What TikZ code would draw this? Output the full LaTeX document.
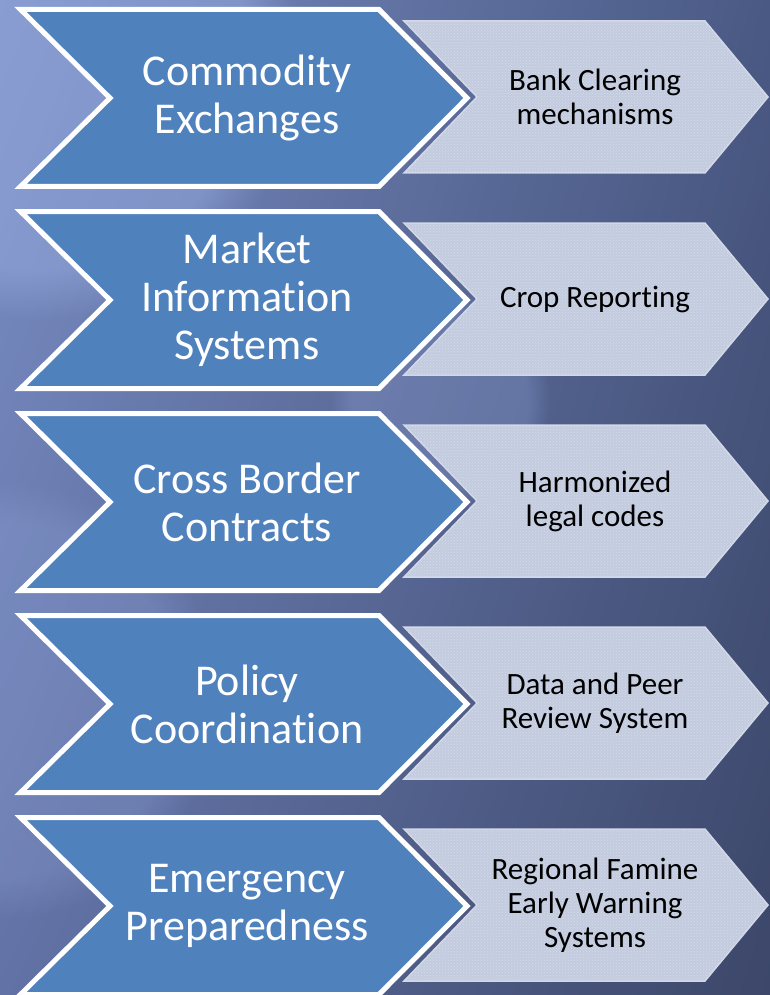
\documentclass[tikz,border=0pt]{standalone}
\usepackage{fontspec}
\setmainfont{Carlito}[Ligatures=NoCommon]
\usetikzlibrary{fadings,patterns,shadings}
\definecolor{bgUL}{HTML}{7A8EC4}
\definecolor{bgUR}{HTML}{4A5984}
\definecolor{bgLL}{HTML}{6272A6}
\definecolor{bgLR}{HTML}{3C4769}
\definecolor{glow}{HTML}{9CB0E6}
\definecolor{chevblue}{HTML}{4F81BD}
\definecolor{chevgray}{HTML}{C3CBDF}
\definecolor{chevdots}{HTML}{D7DCEA}
\definecolor{chevgrayedge}{HTML}{D2D8E8}
\begin{document}
\begin{tikzpicture}[x=1pt,y=-1pt,
  bluechev/.style={fill=chevblue, draw=white, line width=5pt, line join=miter},
  graychev/.style={fill=chevgray, draw=chevgrayedge, line width=1.5pt, line join=miter},
  graydots/.style={pattern=crosshatch dots, pattern color=chevdots},
  bluetext/.style={text=white, font=\fontsize{44}{48}\selectfont, align=center},
  graytext/.style={text=black, font=\fontsize{31}{34}\selectfont, align=center}]
\useasboundingbox (0,0) rectangle (770,995);
\begin{scope}
\clip (0,0) rectangle (770,995);
% background
\shade[upper left=bgUL, upper right=bgUR, lower left=bgLL, lower right=bgLR] (0,0) rectangle (770,995);
\fill[glow, opacity=0.45, path fading=circle with fuzzy edge 20 percent] (40,60) circle (260);
\fill[glow, opacity=0.25, path fading=circle with fuzzy edge 20 percent] (440,400) circle (110);
\fill[glow, opacity=0.22, path fading=circle with fuzzy edge 20 percent] (0,700) circle (220);
% rows
\foreach \i/\c/\lt/\rt in {
  1/98/{Commodity\\Exchanges}/{Bank Clearing\\mechanisms},
  2/300/{Market\\Information\\Systems}/{Crop Reporting},
  3/502/{Cross Border\\Contracts}/{Harmonized\\legal codes},
  4/704/{Policy\\Coordination}/{Data and Peer\\Review System},
  5/906/{Emergency\\Preparedness}/{Regional Famine\\Early Warning\\Systems}} {
  \path[graychev] (404,\c-77) -- (705,\c-77) -- (768,\c-1) -- (705,\c+75) -- (404,\c+75) -- (477,\c-1) -- cycle;
  \path[graydots] (404,\c-77) -- (705,\c-77) -- (768,\c-1) -- (705,\c+75) -- (404,\c+75) -- (477,\c-1) -- cycle;
  \path[bluechev] (20.5,\c-88.5) -- (379,\c-88.5) -- (467,\c) -- (379,\c+88.5) -- (20.5,\c+88.5) -- (110,\c) -- cycle;
  \node[bluetext] (L\i) at (247,\c) {\lt};
  \node[graytext] (R\i) at (595,\c-1) {\rt};
}
\end{scope}
\end{tikzpicture}
\end{document}
